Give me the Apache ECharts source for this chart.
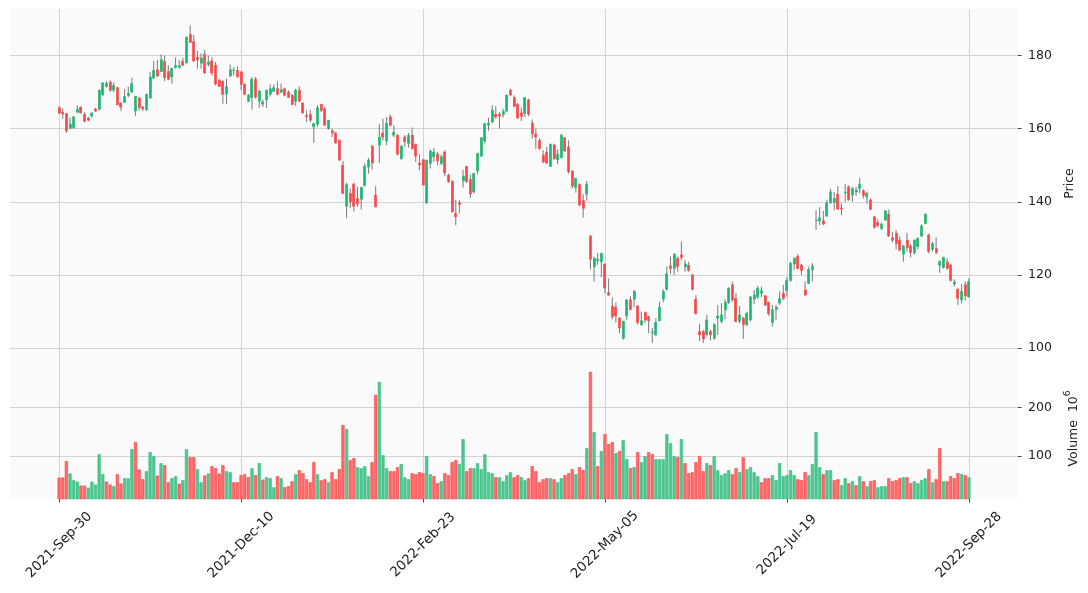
<!DOCTYPE html>
<html>
<head>
<meta charset="utf-8">
<script src="https://cdn.jsdelivr.net/npm/echarts@6/dist/echarts.min.js"></script>
<style>html,body{margin:0;padding:0;background:#ffffff}#c{width:1088px;height:593px}</style>
</head>
<body>
<div id="c"></div>
<script>
// ---------------- data ----------------
const tickIndex = [0, 50, 100, 150, 200, 250];
const tickLabels = ['2021-Sep-30', '2021-Dec-10', '2022-Feb-23', '2022-May-05', '2022-Jul-19', '2022-Sep-28'];
const priceTicks = [100, 120, 140, 160, 180];
const volumeTicks = [100, 200];

const opens = [165.7,164.5,164.1,160.1,160.3,164.5,165.9,163.9,162.9,163.4,165.4,165.3,169.2,171.5,172.7,170.5,171.2,167.0,167.2,169.1,
170.0,164.8,168.4,165.9,165.2,168.4,173.8,176.1,175.6,178.4,175.6,174.1,176.7,176.8,178.4,178.0,185.7,183.8,179.5,177.9,
180.3,177.5,178.5,177.3,173.2,172.9,169.5,174.4,175.9,175.9,175.5,172.1,167.5,168.5,173.5,167.5,166.7,167.9,169.4,170.2,
170.9,170.0,170.9,170.0,169.1,167.5,170.5,167.0,163.6,163.9,160.5,161.2,166.6,165.4,160.0,159.4,158.8,156.8,150.0,138.8,
142.3,144.8,140.9,140.7,144.5,149.5,155.2,141.8,155.5,158.8,156.6,163.2,158.2,158.2,151.8,157.7,155.9,158.2,155.7,150.6,
151.5,139.7,150.5,152.3,153.0,150.5,153.6,147.3,145.6,136.8,139.7,145.7,149.7,146.1,142.7,148.4,152.5,156.6,160.9,161.8,
163.9,163.9,163.9,164.8,170.5,168.5,166.6,164.3,164.1,167.9,161.5,158.5,156.8,152.7,153.6,149.7,155.5,151.5,152.1,157.5,
155.0,148.4,143.9,144.8,140.3,142.1,130.6,122.3,123.9,123.6,123.0,115.2,111.5,111.2,108.2,102.7,108.8,113.2,113.4,111.5,
106.4,109.7,108.6,104.2,103.6,107.5,113.4,116.1,122.5,121.8,124.5,125.5,122.2,122.7,120.0,113.4,104.5,104.5,103.6,104.5,
102.7,108.2,107.3,110.5,112.5,117.3,113.6,107.3,108.2,106.4,107.7,113.4,114.0,115.0,114.3,112.5,107.0,110.6,112.3,115.0,
115.7,118.5,123.0,125.0,122.7,115.9,117.7,121.4,134.9,134.8,134.8,136.1,139.7,139.8,142.1,138.3,142.4,144.1,141.9,142.7,
143.6,143.0,141.4,140.5,135.9,134.3,132.7,135.0,136.6,130.2,131.4,129.5,125.7,129.5,127.9,126.1,127.8,130.6,134.1,130.9,
127.0,127.2,122.7,122.0,123.5,122.7,117.5,116.1,113.2,117.3,114.0];

const closes = [164.3,164.0,159.4,161.2,163.2,165.3,164.3,162.0,162.3,164.2,164.8,170.5,172.5,172.4,170.5,171.8,166.5,165.9,168.8,169.7,
172.3,168.8,165.8,165.4,169.4,174.1,175.9,174.4,178.8,173.9,173.5,176.5,177.3,177.2,177.3,185.0,183.6,178.5,178.8,179.3,
175.2,178.2,175.2,172.2,171.5,169.4,171.5,176.1,176.0,174.1,172.1,169.4,169.1,173.5,168.6,170.3,167.3,170.5,170.9,171.2,
169.4,170.6,169.1,168.5,166.6,170.5,167.5,164.3,163.2,162.3,161.4,165.7,165.0,160.9,162.3,158.8,156.1,151.4,142.3,144.7,
140.0,138.8,139.4,143.9,149.7,151.4,150.6,138.6,157.7,157.7,161.5,160.9,159.0,153.0,155.2,156.4,158.2,154.5,152.5,150.1,
144.6,151.4,153.9,153.6,151.2,152.3,147.9,145.5,137.3,135.9,139.3,147.0,145.5,142.1,147.7,153.2,157.5,161.4,161.5,165.0,
163.2,163.4,164.7,169.1,169.2,166.1,162.9,163.4,168.5,163.9,158.6,157.7,154.5,150.9,150.6,155.7,151.8,153.0,158.2,153.9,
148.2,144.3,146.4,139.1,138.2,144.8,124.3,124.5,124.3,125.9,116.4,114.5,108.6,108.8,105.5,107.3,113.2,110.6,115.5,107.0,
107.5,107.7,107.5,104.4,107.0,111.2,115.5,120.3,121.7,125.7,122.3,124.8,123.0,121.2,116.1,109.5,103.6,102.5,107.7,103.6,
106.4,108.8,109.1,112.5,116.4,113.2,107.3,109.1,106.4,109.5,114.0,114.5,116.4,115.7,111.8,109.4,110.5,111.2,113.5,113.6,
118.5,123.2,124.5,121.8,121.2,114.5,121.5,122.5,135.0,135.6,133.9,139.7,142.7,140.9,138.0,138.0,142.6,140.5,143.6,143.2,
144.8,141.8,142.3,137.9,133.0,133.5,133.9,137.5,130.6,129.5,128.6,126.8,127.9,127.5,126.1,129.5,130.0,133.4,136.6,126.4,
128.6,126.1,123.6,124.8,121.8,118.5,118.1,113.6,115.5,114.3,118.2];

const lows = [163.9,162.7,158.8,159.9,159.9,164.3,164.1,161.8,162.0,163.0,164.6,165.0,169.0,171.2,170.1,170.0,166.4,164.8,167.0,168.6,
169.7,163.5,165.0,164.8,164.8,168.2,173.6,174.1,175.5,173.0,173.2,172.3,176.4,176.4,177.2,177.8,183.4,178.2,176.4,176.4,
175.0,177.0,174.5,171.8,171.4,166.8,166.8,174.1,174.5,174.1,170.5,169.1,167.3,165.2,168.2,165.7,165.9,165.7,168.8,170.0,
169.1,169.7,168.8,168.5,166.4,166.2,167.3,164.1,161.8,161.8,156.1,160.6,164.5,160.9,159.7,157.7,155.9,151.2,142.1,135.5,
138.2,137.3,138.6,137.9,144.1,147.7,148.8,138.5,150.6,156.8,155.5,160.6,157.7,152.7,151.5,155.0,154.8,154.3,150.9,148.6,
144.5,139.5,149.1,150.9,150.0,150.0,147.0,145.2,137.0,133.6,136.8,143.9,145.2,141.0,142.3,147.5,152.3,155.9,159.4,161.5,
162.7,160.0,163.0,164.5,168.8,165.9,162.7,162.1,163.2,163.4,157.3,154.5,154.3,150.5,150.3,149.5,151.5,150.3,151.8,153.6,
147.7,143.6,142.5,138.8,135.7,140.3,121.5,118.2,122.8,119.4,115.0,114.3,107.9,107.0,104.1,102.3,107.7,110.3,111.2,106.4,
106.1,106.8,104.1,101.4,103.4,107.3,112.5,115.7,120.3,120.0,120.9,124.0,120.9,120.9,115.7,109.1,101.9,101.4,103.4,102.1,
102.3,103.6,106.8,107.9,112.1,112.7,107.0,106.8,102.5,106.0,107.3,112.1,113.4,114.0,111.4,108.8,105.9,107.7,111.8,113.2,
114.1,118.2,121.4,121.5,120.0,114.3,117.5,118.2,132.3,133.6,133.6,135.9,139.5,137.7,137.8,136.3,140.0,140.3,140.0,141.6,
142.3,140.9,139.5,137.8,132.7,133.0,132.3,134.8,130.5,128.9,127.0,126.4,123.6,126.4,124.8,125.5,127.0,130.5,133.9,125.9,
126.4,125.7,120.6,121.8,121.4,118.2,116.8,111.8,112.3,113.0,113.8];

const highs = [166.1,165.5,164.3,163.0,163.4,166.4,166.1,164.5,163.2,164.5,165.7,170.6,172.7,173.0,173.2,172.6,171.4,167.2,170.9,171.5,
173.9,168.8,168.5,166.2,169.5,175.5,178.5,178.8,180.3,180.0,177.3,176.6,179.5,178.8,179.4,185.2,188.2,185.6,181.2,180.6,
181.5,180.0,179.5,178.2,173.6,173.2,173.6,177.5,176.8,177.0,175.7,172.3,169.5,174.1,174.1,170.5,167.9,170.6,172.1,172.1,
172.9,172.3,171.2,170.5,169.5,170.9,171.5,167.2,165.0,165.2,161.5,166.4,166.8,165.9,162.3,160.0,159.1,157.0,151.2,145.2,
143.6,145.2,144.1,144.1,150.5,152.0,155.5,144.3,161.2,162.7,163.2,163.9,160.9,158.5,155.5,158.2,158.8,160.3,155.9,153.0,
151.8,151.4,154.3,154.7,153.6,152.9,154.1,147.7,145.9,140.6,140.5,148.8,149.7,147.5,147.9,153.4,157.7,161.5,163.0,166.4,
166.2,164.5,165.5,169.4,170.9,169.1,167.0,165.7,168.6,168.2,162.5,160.0,157.3,154.1,155.0,155.9,155.9,154.3,158.6,157.7,
156.8,148.6,146.5,145.0,142.1,145.7,130.9,125.0,126.0,126.0,123.2,119.0,113.9,112.5,108.5,107.5,113.4,114.1,115.9,111.8,
110.0,110.0,108.8,105.5,108.2,112.7,116.1,122.3,125.0,125.9,125.0,129.1,124.1,123.6,120.3,114.5,106.6,105.0,109.1,105.0,
106.8,111.8,112.3,113.4,116.6,118.2,115.0,111.5,108.5,110.0,114.3,115.9,117.0,116.8,114.5,112.7,111.8,111.8,115.5,117.3,
119.5,123.6,124.8,125.7,123.0,118.2,122.3,123.2,137.7,138.5,137.5,140.6,143.6,142.7,144.3,139.5,144.8,144.5,144.1,144.1,
146.5,143.4,142.7,140.9,136.1,135.2,134.3,137.7,137.9,131.8,132.3,130.5,128.2,131.5,128.5,129.7,130.3,133.9,136.8,131.3,
129.1,130.3,124.1,125.0,124.5,123.0,118.8,116.4,117.5,118.2,119.1];

const volumes = [56.2,56.2,89.7,64.4,50.7,47.9,39.7,39.7,35.6,47.9,41.8,104.1,63.0,47.9,41.8,38.4,63.0,43.8,54.8,54.8,
114.4,128.8,72.6,52.7,69.2,108.2,100.0,60.3,85.6,81.5,46.6,54.8,58.9,43.8,50.7,114.4,97.9,97.9,73.3,46.6,
60.3,64.4,79.5,75.3,64.4,81.5,69.2,67.1,46.6,46.6,61.0,63.0,56.8,75.3,61.0,85.6,52.0,56.8,54.8,36.3,
58.9,54.8,36.3,38.4,48.6,63.0,71.2,65.1,52.7,46.6,87.7,63.0,50.7,52.7,46.6,67.1,52.7,73.3,163.7,155.5,
91.8,95.9,77.4,75.3,79.5,58.9,87.7,225.3,252.1,102.1,75.3,69.2,69.2,77.4,83.6,56.8,52.7,65.1,63.0,67.1,
65.1,100.0,63.0,58.9,44.5,48.6,65.1,61.0,87.7,91.8,83.6,134.9,69.2,75.3,75.3,85.6,73.3,104.1,67.1,65.1,
56.8,56.8,48.6,61.0,67.1,56.8,61.0,56.8,50.7,54.8,79.5,69.2,46.6,52.7,54.8,54.8,52.7,46.6,54.8,61.0,
65.1,73.3,63.0,77.4,71.2,116.4,272.6,149.3,79.5,110.3,145.2,124.7,128.8,106.2,110.3,132.9,93.8,75.3,77.4,108.2,
87.7,100.0,108.2,104.1,93.8,93.8,93.8,145.2,126.7,100.0,97.9,134.9,85.6,65.1,67.1,87.7,100.0,69.2,85.6,81.5,
100.0,71.2,61.0,65.1,71.2,63.0,75.3,67.1,97.9,73.3,77.4,67.1,58.9,46.6,54.8,54.8,61.0,50.7,85.6,58.9,
61.0,71.2,61.0,52.7,50.7,67.1,61.0,83.6,149.3,77.4,63.0,71.2,71.2,50.7,52.7,40.4,54.8,44.5,48.6,40.4,
58.9,48.6,38.4,48.6,50.7,36.3,38.4,38.4,54.8,48.6,50.7,54.8,56.8,56.8,44.5,48.6,44.5,50.7,54.8,73.3,
46.6,52.7,116.4,48.6,48.6,58.9,54.8,65.1,63.0,61.0,56.8];

// ---------------- styles ----------------
const UP = '#19b76f', DOWN = '#fe4446', WICK = '#7a7a7a';
const VOL_UP = '#4dc790', VOL_DOWN = '#fd6b6c';
const GRID = '#d3d3d3', BG = '#fafafa', TXT = '#222222';
const FONT = 'DejaVu Sans';

const idx = closes.map((_, i) => i);
const bodyData = idx.map(i => [i, opens[i], closes[i], Math.min(opens[i], closes[i]), Math.max(opens[i], closes[i])]);
const wickData = idx.map(i => [i, lows[i], highs[i]]);
const volData = idx.map(i => {
  const up = i === 0 ? closes[0] >= opens[0] : closes[i] >= closes[i - 1];
  return {
    value: [i, volumes[i]],
    itemStyle: up ? { color: VOL_UP, borderColor: '#3bbd82', borderWidth: 0.6 }
                  : { color: VOL_DOWN, borderColor: DOWN, borderWidth: 0.6 }
  };
});

const X_MIN = -13.5, X_MAX = 263.5;
const labelFor = v => { const k = tickIndex.indexOf(Math.round(v)); return k >= 0 ? tickLabels[k] : ''; };
const tickStyle = { show: true, length: 3.5, lineStyle: { color: '#444' } };

const chart = echarts.init(document.getElementById('c'), null, { renderer: 'canvas' });
chart.setOption({
  animation: false,
  backgroundColor: '#ffffff',
  textStyle: { fontFamily: FONT },
  grid: [
    { left: 10, right: 70, top: 9, height: 349, show: true, backgroundColor: BG, borderWidth: 0 },
    { left: 10, right: 70, top: 358, height: 141, show: true, backgroundColor: BG, borderWidth: 0 }
  ],
  xAxis: [
    {
      type: 'value', gridIndex: 0, min: X_MIN, max: X_MAX,
      axisLine: { show: false, onZero: false },
      axisTick: { show: false, customValues: tickIndex },
      axisLabel: { show: false, customValues: tickIndex },
      splitLine: { show: true, lineStyle: { color: GRID, width: 1 } }
    },
    {
      type: 'value', gridIndex: 1, min: X_MIN, max: X_MAX,
      axisLine: { show: false, onZero: false },
      axisTick: Object.assign({ customValues: tickIndex }, tickStyle),
      axisLabel: {
        show: true, customValues: tickIndex, formatter: labelFor,
        rotate: 45, align: 'center', verticalAlign: 'middle', margin: 46,
        color: TXT, fontSize: 13.5, fontFamily: FONT
      },
      splitLine: { show: true, lineStyle: { color: GRID, width: 1 } }
    }
  ],
  yAxis: [
    {
      type: 'value', gridIndex: 0, position: 'right', min: 97.3, max: 192.7,
      axisLine: { show: false, onZero: false },
      axisTick: Object.assign({ customValues: priceTicks }, tickStyle),
      axisLabel: { show: true, customValues: priceTicks, color: TXT, fontSize: 12.5, margin: 10, fontFamily: FONT },
      splitLine: { show: true, lineStyle: { color: GRID, width: 1 } },
      name: 'Price', nameLocation: 'middle', nameRotate: 90, nameGap: 44,
      nameTextStyle: { color: TXT, fontSize: 12.5, fontFamily: FONT }
    },
    {
      type: 'value', gridIndex: 1, position: 'right', min: 12.3, max: 301,
      axisLine: { show: false, onZero: false },
      axisTick: Object.assign({ customValues: volumeTicks }, tickStyle),
      axisLabel: { show: true, customValues: volumeTicks, color: TXT, fontSize: 12.5, margin: 10, fontFamily: FONT },
      splitLine: { show: true, lineStyle: { color: GRID, width: 1 } },
      name: '{a|Volume  10}{b|6}', nameLocation: 'middle', nameRotate: 90, nameGap: 45,
      nameTextStyle: {
        color: TXT, fontSize: 12.5, fontFamily: FONT,
        rich: {
          a: { fontSize: 12.5, fontFamily: FONT, color: TXT, verticalAlign: 'bottom' },
          b: { fontSize: 9, fontFamily: FONT, color: TXT, verticalAlign: 'top', padding: [0, 0, 8, 0] }
        }
      }
    }
  ],
  series: [
    {
      name: 'wick', type: 'custom', xAxisIndex: 0, yAxisIndex: 0, z: 2,
      data: wickData, encode: { x: 0, y: [1, 2] },
      renderItem: (params, api) => {
        const lo = api.coord([api.value(0), api.value(1)]);
        const hi = api.coord([api.value(0), api.value(2)]);
        return { type: 'line', shape: { x1: lo[0], y1: lo[1], x2: hi[0], y2: hi[1] },
                 style: { stroke: WICK, lineWidth: 1 } };
      }
    },
    {
      name: 'price', type: 'candlestick', xAxisIndex: 0, yAxisIndex: 0, z: 3,
      data: bodyData, encode: { x: 0, y: [1, 2, 3, 4] },
      barWidth: 2.5,
      itemStyle: { color: UP, color0: DOWN, borderColor: UP, borderColor0: DOWN, borderWidth: 0.6 }
    },
    {
      name: 'volume', type: 'bar', xAxisIndex: 1, yAxisIndex: 1, z: 3,
      data: volData, barWidth: 3.2
    }
  ]
});
</script>
</body>
</html>
